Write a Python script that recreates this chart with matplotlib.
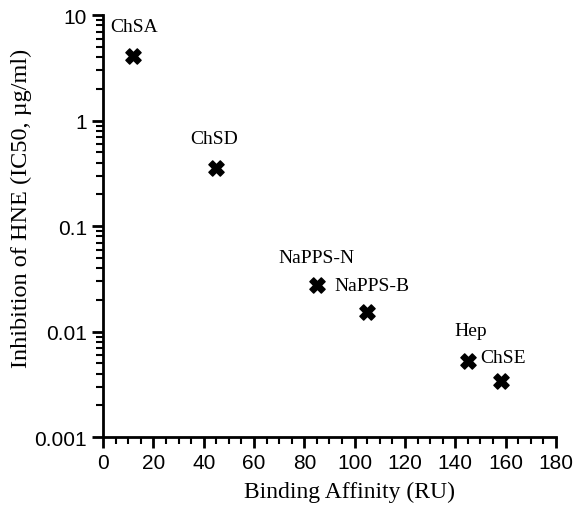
import numpy as np
import matplotlib
matplotlib.use("Agg")
import matplotlib.pyplot as plt
from matplotlib.ticker import LogLocator, FixedLocator, NullFormatter

# binding affinity (RU) vs inhibition of HNE (IC50, ug/ml)
names = ['ChSA', 'ChSD', 'NaPPS-N', 'NaPPS-B', 'Hep', 'ChSE']
affinity = [12, 45, 85, 105, 145, 158]
ic50 = [4.1, 0.36, 0.028, 0.0155, 0.0053, 0.0034]
# label offsets in points (dx, dy)
offsets = [(-16.5, 21), (-18.7, 21), (-28, 19.5), (-23.8, 18.7), (-10, 21.6), (-14.4, 17.3)]

fig = plt.figure(figsize=(5.76, 5.06), dpi=100)
ax = fig.add_axes([0.179, 0.134, 0.786, 0.834])

ax.scatter(affinity, ic50, marker='X', s=120, color='black', zorder=3)
for n, x, y, (dx, dy) in zip(names, affinity, ic50, offsets):
    ax.annotate(n, (x, y), xytext=(dx, dy), textcoords='offset points',
                ha='left', va='center', fontsize=14, family='Liberation Serif')

ax.set_yscale('log')
ax.set_xlim(0, 180)
ax.set_ylim(0.001, 10)
ax.set_xticks(np.arange(0, 181, 20))
ax.xaxis.set_minor_locator(FixedLocator(np.arange(0, 181, 5)))
ax.yaxis.set_major_locator(LogLocator(base=10))
ax.yaxis.set_minor_locator(LogLocator(base=10, subs=np.arange(2, 10)))
ax.yaxis.set_minor_formatter(NullFormatter())
ax.set_yticks([0.001, 0.01, 0.1, 1, 10])
ax.set_yticklabels(['0.001', '0.01', '0.1', '1', '10'])

for s in ['top', 'right']:
    ax.spines[s].set_visible(False)
for s in ['left', 'bottom']:
    ax.spines[s].set_linewidth(2)

ax.tick_params(which='major', length=8, width=2, labelsize=15)
ax.tick_params(which='minor', length=5, width=1.5)
for lab in ax.get_xticklabels() + ax.get_yticklabels():
    lab.set_family('Liberation Sans')

ax.set_xlabel('Binding Affinity (RU)', fontsize=17, family='Liberation Serif')
ax.set_ylabel('Inhibition of HNE (IC50, µg/ml)', fontsize=17.5, family='Liberation Serif')
ax.xaxis.set_label_coords(0.545, -0.104)
ax.yaxis.set_label_coords(-0.157, 0.545)

fig.savefig('out.png', dpi=100)
